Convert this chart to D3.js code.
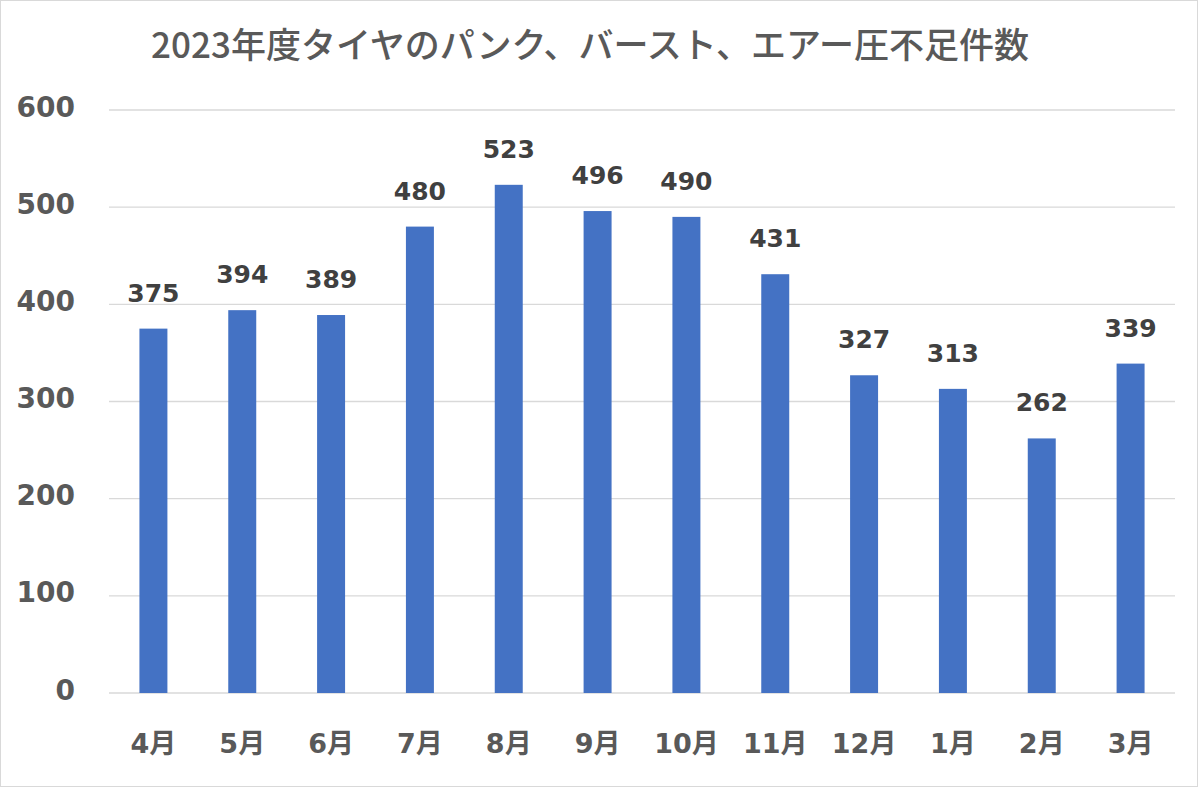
<!DOCTYPE html>
<html><head><meta charset="utf-8">
<script src="https://cdn.jsdelivr.net/npm/d3@7"></script>
<style>body{margin:0;background:#fff}svg{display:block}</style>
</head><body>
<svg id="c" width="1200" height="788"></svg>
<script>
const months = ["4月","5月","6月","7月","8月","9月","10月","11月","12月","1月","2月","3月"];
const counts = [375,394,389,480,523,496,490,431,327,313,262,339];
const yTicks = [0,100,200,300,400,500,600];
const title = "2023年度タイヤのパンク、バースト、エアー圧不足件数";

const svg = d3.select("#c");
const font = "'Noto Sans CJK JP','Noto Sans',sans-serif";
const numFont = "'DejaVu Sans','Noto Sans CJK JP',sans-serif";
svg.append("rect").attr("x",0.5).attr("y",0.5).attr("width",1197).attr("height",786)
  .attr("fill","#fff").attr("stroke","#d9d9d9");

const m = {left:109, right:1175, top:110, bottom:693};
const x = d3.scaleBand().domain(months).range([m.left,m.right]).paddingInner(0.685).paddingOuter(0.3425);
const y = d3.scaleLinear().domain([0,600]).range([m.bottom,m.top]);

const g = svg.append("g");
g.selectAll("line.grid").data(yTicks).join("line").attr("class","grid")
  .attr("x1",m.left).attr("x2",m.right).attr("y1",d=>y(d)).attr("y2",d=>y(d))
  .attr("stroke","#d9d9d9").attr("stroke-width",1.3);

const yAxis = d3.axisLeft(y).tickValues(yTicks).tickSize(0).tickPadding(0);
const ya = svg.append("g").attr("transform","translate(75,0)").call(yAxis);
ya.select(".domain").remove();
ya.selectAll("text").attr("font-family",numFont).attr("font-weight","bold")
  .attr("font-size",28).attr("fill","#595959").attr("y",6).attr("dy",null);

const xAxis = d3.axisBottom(x).tickSize(0).tickPadding(0);
const xa = svg.append("g").attr("transform","translate(0,753)").call(xAxis);
xa.select(".domain").remove();
xa.selectAll("text").attr("font-family",numFont).attr("font-weight","bold")
  .attr("font-size",27).attr("fill","#595959").attr("y",0).attr("dy",null);

g.selectAll("rect.bar").data(counts).join("rect").attr("class","bar")
  .attr("x",(d,i)=>x(months[i])).attr("width",x.bandwidth())
  .attr("y",d=>y(d)).attr("height",d=>y(0)-y(d)).attr("fill","#4472C4");

g.selectAll("text.lab").data(counts).join("text").attr("class","lab")
  .attr("x",(d,i)=>x(months[i])+x.bandwidth()/2).attr("y",d=>y(d)-27)
  .attr("text-anchor","middle").attr("font-family",numFont).attr("font-weight","bold")
  .attr("font-size",25).attr("fill","#404040").text(d=>d);

svg.append("text").attr("x",590).attr("y",58).attr("text-anchor","middle")
  .attr("font-family",font).attr("font-weight","500").attr("font-size",35)
  .attr("fill","#595959").text(title);
</script>
</body></html>
